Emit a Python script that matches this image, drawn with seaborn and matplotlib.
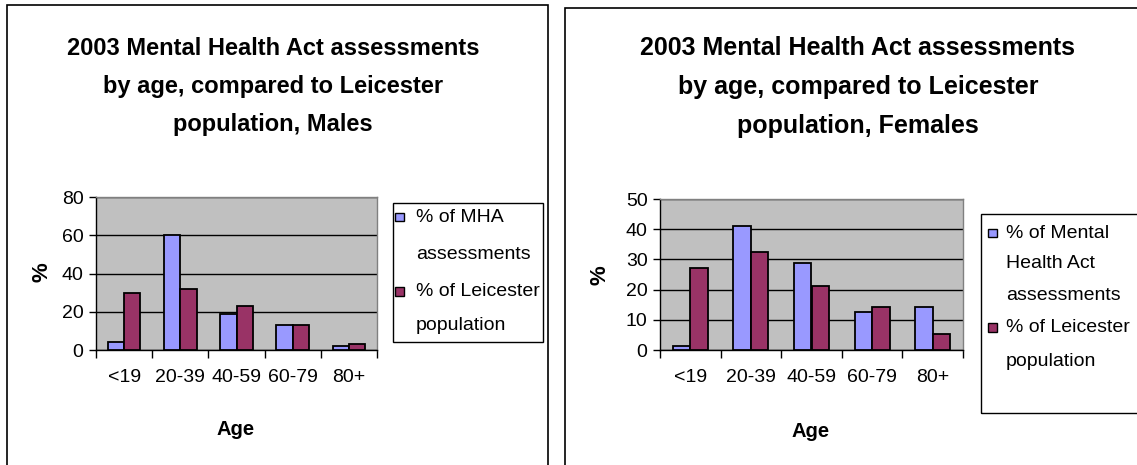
import numpy as np
import pandas as pd
import matplotlib
matplotlib.use("Agg")
import matplotlib.pyplot as plt
import seaborn as sns
from matplotlib.patches import Rectangle

# ---------------- data ----------------
ages = ["<19", "20-39", "40-59", "60-79", "80+"]
male_mha = [4, 60, 19, 13, 2]
male_pop = [30, 32, 23, 13, 3]
female_mha = [1.3, 41, 28.8, 12.5, 14.4]
female_pop = [27, 32.5, 21.2, 14.4, 5.2]
male_series = ["% of MHA\nassessments", "% of Leicester\npopulation"]
female_series = ["% of Mental\nHealth Act\nassessments", "% of Leicester\npopulation"]
male_title = ["2003 Mental Health Act assessments",
              "by age, compared to Leicester",
              "population, Males"]
female_title = ["2003 Mental Health Act assessments",
                "by age, compared to Leicester",
                "population, Females"]
colors = ["#9999FF", "#993366"]

W, H = 1137, 465
plt.rcParams["font.family"] = ["Liberation Sans", "DejaVu Sans"]

fig = plt.figure(figsize=(W / 100, H / 100), dpi=100)


def fx(x):
    return x / W


def fy(y):
    return 1 - y / H


def add_axes(x0, y0, x1, y1):
    return fig.add_axes([fx(x0), fy(y1), fx(x1) - fx(x0), fy(y0) - fy(y1)])


def rect(x0, y0, x1, y1, **kw):
    r = Rectangle((fx(x0), fy(y1)), fx(x1) - fx(x0), fy(y0) - fy(y1),
                  transform=fig.transFigure, **kw)
    fig.patches.append(r)
    return r


def draw(ax, mha, pop, series, ymax, ystep):
    df = pd.DataFrame({
        "Age": ages * 2,
        "Value": list(mha) + list(pop),
        "Series": [series[0]] * len(ages) + [series[1]] * len(ages),
    })
    sns.barplot(data=df, x="Age", y="Value", hue="Series", order=ages,
                hue_order=series, palette=colors, width=0.58, saturation=1,
                edgecolor="black", linewidth=1.3, errorbar=None, legend=False,
                ax=ax, zorder=3)
    ax.set_facecolor("#C0C0C0")
    ax.set_xlim(-0.5, len(ages) - 0.5)
    ax.set_ylim(0, ymax)
    ax.set_yticks(np.arange(0, ymax + 1, ystep))
    ax.yaxis.grid(True, color="black", lw=1, zorder=1)
    ax.xaxis.grid(False)
    ax.set_axisbelow(True)
    ax.set_xticks(np.arange(-0.5, len(ages), 1))
    ax.set_xticklabels([])
    ax.set_xticks(range(len(ages)), minor=True)
    ax.set_xticklabels(ages, minor=True)
    ax.tick_params(axis="x", which="major", length=6, width=1, color="black",
                   direction="out")
    ax.tick_params(axis="x", which="minor", length=0, pad=14, labelsize=14)
    ax.tick_params(axis="y", length=5, width=1, pad=4, labelsize=14,
                   direction="out")
    for s in ["left", "bottom"]:
        ax.spines[s].set_color("black")
        ax.spines[s].set_linewidth(1)
    for s in ["top", "right"]:
        ax.spines[s].set_color("#808080")
        ax.spines[s].set_linewidth(1)
    ax.set_xlabel("")
    ax.set_ylabel("")


def legend(series, hx, tx, line_ys, n_lines):
    """Legend drawn line by line: one square swatch per series."""
    i = 0
    for s, c, n in zip(series, colors, n_lines):
        lines = s.split("\n")
        y0 = line_ys[i]
        rect(hx, y0 - 4.5, hx + 9, y0 + 4.5, facecolor=c, edgecolor="black", lw=1)
        for ln in lines:
            fig.text(fx(tx), fy(line_ys[i]), ln, ha="left", va="center",
                     fontsize=14)
            i += 1


# ---------------- outer chart frames ----------------
rect(7, 5, 548, 470, fill=False, edgecolor="black", lw=1.2)
rect(565, 8, 1150, 470, fill=False, edgecolor="black", lw=1.2)

# ---------------- left chart ----------------
axL = add_axes(96, 197, 377, 350)
draw(axL, male_mha, male_pop, male_series, 80, 20)
for txt, yb in zip(male_title, [55, 93, 131]):
    fig.text(fx(273), fy(yb), txt, ha="center", va="baseline",
             fontsize=17, fontweight="bold")
fig.text(fx(42), fy(272), "%", rotation=90, ha="center", va="center",
         fontsize=16, fontweight="bold")
fig.text(fx(236), fy(429), "Age", ha="center", va="center",
         fontsize=14.5, fontweight="bold")

rect(393, 203, 543, 342, fill=False, edgecolor="black", lw=1)
legend(male_series, 395, 416, [217, 254, 291, 325], [2, 2])

# ---------------- right chart ----------------
axR = add_axes(660, 199, 963, 350)
draw(axR, female_mha, female_pop, female_series, 50, 10)
for txt, yb in zip(female_title, [55, 94, 133]):
    fig.text(fx(858), fy(yb), txt, ha="center", va="baseline",
             fontsize=18, fontweight="bold")
fig.text(fx(600), fy(275), "%", rotation=90, ha="center", va="center",
         fontsize=16, fontweight="bold")
fig.text(fx(811), fy(431), "Age", ha="center", va="center",
         fontsize=14.5, fontweight="bold")

rect(981, 214, 1150, 413, fill=False, edgecolor="black", lw=1)
legend(female_series, 988, 1006, [233, 264, 295, 327, 361], [3, 2])

fig.savefig("out.png", dpi=100, facecolor="white")
